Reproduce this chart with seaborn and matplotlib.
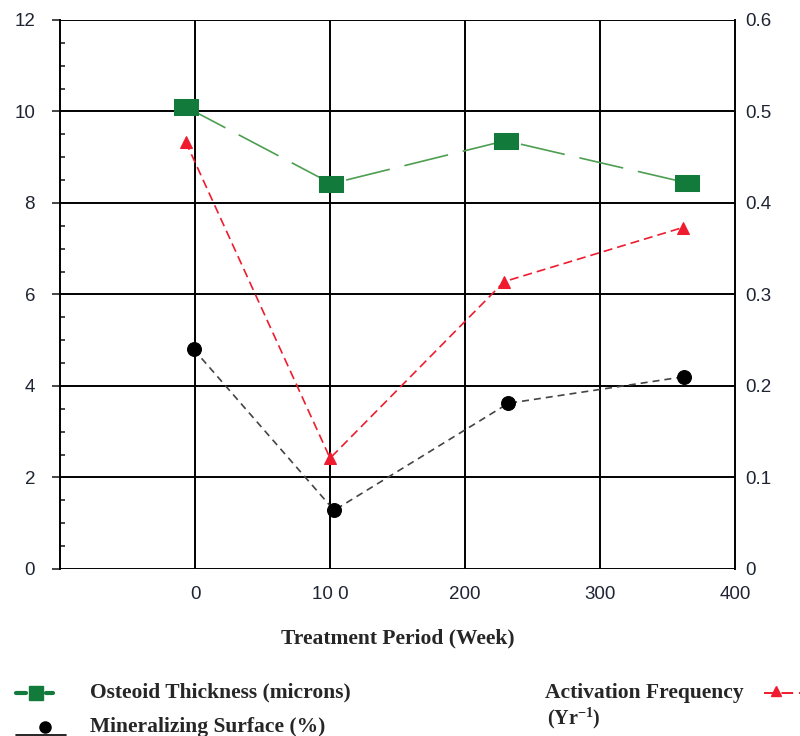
import numpy as np
import pandas as pd
import seaborn as sns
import matplotlib.pyplot as plt
from matplotlib.lines import Line2D
from matplotlib.ticker import MultipleLocator

# values
osteoid_week = [-7, 101, 230, 364]
osteoid_um = [10.1, 8.42, 9.36, 8.44]
activation_week = [-7, 100, 229, 361]
activation_freq = [0.467, 0.121, 0.314, 0.373]
mineral_week = [-1, 103, 232, 362]
mineral_pct = [4.8, 1.28, 3.62, 4.2]

x_ticks = [0, 100, 200, 300, 400]
x_tick_labels = ["0", "10 0", "200", "300", "400"]

sns.set_style("white")
plt.rcParams["font.family"] = ["Liberation Sans", "DejaVu Sans"]

green = "#127a3a"
green_line = "#4e9e52"
red = "#ee1c2e"
tick_col = "#1f2433"
rect = [(-1.5, -1), (1.5, -1), (1.5, 1), (-1.5, 1), (-1.5, -1)]

fig = plt.figure(figsize=(8, 7.36), dpi=100)
ax = fig.add_axes([0.075, 0.227, 0.844, 0.746])
ax2 = ax.twinx()

sns.lineplot(x=osteoid_week, y=osteoid_um, ax=ax, color=green_line, lw=1.2,
             linestyle=(0, (27, 9)), marker=rect, markersize=18,
             markeredgecolor=green, markerfacecolor=green, zorder=5)
sns.lineplot(x=mineral_week, y=mineral_pct, ax=ax, color="#444444", lw=1.2,
             linestyle=(0, (4.2, 3)), marker="o", markersize=10,
             markeredgecolor="black", markerfacecolor="black", zorder=5)
sns.lineplot(x=activation_week, y=activation_freq, ax=ax2, color=red, lw=1.2,
             linestyle=(0, (5.4, 3)), marker="^", markersize=9,
             markeredgecolor=red, zorder=5)

ax.set_xlim(-100, 400)
ax.set_ylim(0, 12)
ax2.set_ylim(0, 0.6)

ax.set_xticks([-100] + x_ticks)
ax.set_xticklabels([""] + x_tick_labels)
ax.set_yticks(range(0, 13, 2))
ax.yaxis.set_minor_locator(MultipleLocator(0.5))
ax2.set_yticks(np.arange(0, 0.61, 0.1))
ax2.set_yticklabels(["0", "0.1", "0.2", "0.3", "0.4", "0.5", "0.6"])

for a in (ax, ax2):
    for s in a.spines.values():
        s.set_visible(False)
for side in ("left", "right"):
    ax.spines[side].set_visible(True)
    ax.spines[side].set_color("black")
    ax.spines[side].set_linewidth(1.4)

# grid lines
for yv in range(0, 13, 2):
    ax.axhline(yv, color="black", lw=1.4, zorder=1)
for xv in [0, 100, 200, 300]:
    ax.axvline(xv, color="black", lw=1.4, zorder=1)

ax.tick_params(axis="y", which="major", direction="out", length=6, width=1.2,
               labelsize=13.5, labelcolor=tick_col, pad=12)
ax.tick_params(axis="y", which="minor", direction="in", length=3.5, width=1.2)
ax.tick_params(axis="x", direction="out", length=6, width=1.2, labelsize=13.5,
               labelcolor=tick_col, pad=6)
ax2.tick_params(axis="y", length=0, labelsize=13.5, labelcolor=tick_col, pad=7)
ax.set_ylabel("")

serif = ["Liberation Serif", "DejaVu Serif"]
ax.set_xlabel("Treatment Period (Week)", family=serif, weight="bold",
              fontsize=15.5, labelpad=19)

# legend, drawn below the chart
fs = 15.5
tf = fig.transFigure
fig.add_artist(Line2D([0.02, 0.032], [0.059, 0.059], color=green, lw=3, transform=tf))
fig.add_artist(Line2D([0.058, 0.066], [0.059, 0.059], color=green, lw=3, transform=tf))
fig.add_artist(Line2D([0.045], [0.059], color=green, marker="s", markersize=10,
                      transform=tf))
fig.text(0.112, 0.059, "Osteoid Thickness (microns)", family=serif,
         weight="bold", fontsize=fs, va="center")

fig.add_artist(Line2D([0.02, 0.082], [0.002, 0.002], color="black", lw=1.2,
                      transform=tf))
fig.add_artist(Line2D([0.056], [0.012], color="black", marker="o",
                      markersize=8, transform=tf))
fig.text(0.112, 0.012, "Mineralizing Surface (%)", family=serif,
         weight="bold", fontsize=fs, va="center")

fig.text(0.681, 0.058, "Activation Frequency", family=serif,
         weight="bold", fontsize=fs, va="center")
fig.text(0.684, 0.024, r"(Yr$^{\mathregular{-1}}$)", family=serif,
         weight="bold", fontsize=fs - 1, va="center")
fig.add_artist(Line2D([0.955, 1.0], [0.059, 0.059], color=red, lw=1.4,
                      linestyle=(0, (6, 3)), transform=tf))
fig.add_artist(Line2D([0.97], [0.061], color=red, marker="^",
                      markersize=7, transform=tf))

fig.savefig("out.png", dpi=100)
